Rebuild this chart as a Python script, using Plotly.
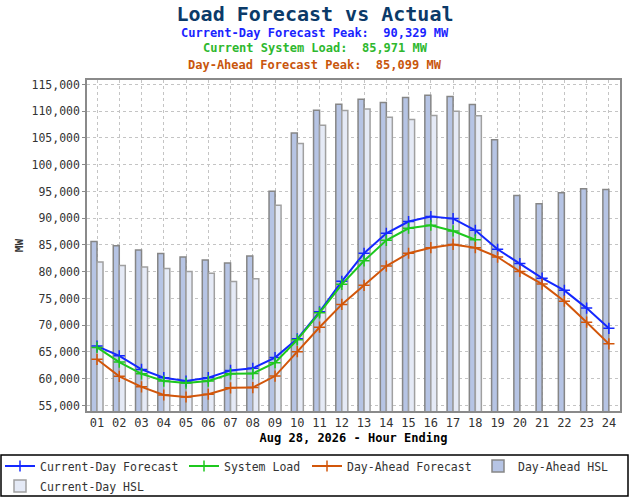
import plotly.graph_objects as go

# hour ending labels
hours = ['%02d' % h for h in range(1, 25)]

# MW values
current_day_forecast = [66110, 64280, 61750, 60190, 59570, 60190, 61560, 61950, 63950, 67460, 72520, 78200,
                        83460, 87190, 89380, 90329, 89930, 87750, 84200, 81540, 78800, 76520, 73200, 69430]
system_load = [65850, 63110, 60910, 59570, 59190, 59570, 60910, 60970, 62990, 67280, 72330, 77650,
               82040, 85880, 88130, 88690, 87620, 85971, None, None, None, None, None, None]
day_ahead_forecast = [63630, 60450, 58480, 56960, 56590, 57100, 58300, 58350, 60500, 65060, 69630, 73900,
                      77470, 81060, 83460, 84490, 85099, 84490, 82750, 80050, 77690, 74490, 70570, 66520]
day_ahead_hsl = [85650, 84870, 84060, 83400, 82750, 82190, 81630, 82940, 95050, 105930, 110190, 111300,
                 112260, 111650, 112570, 113000, 112760, 111260, 104690, 94250, 92690, 94750, 95500, 95380]
current_day_hsl = [81810, 81180, 80880, 80620, 80060, 79720, 78190, 78690, 92450, 103990, 107390, 110120,
                   110430, 108900, 108460, 109210, 110000, 109150, None, None, None, None, None, None]

mono = 'DejaVu Sans Mono'

fig = go.Figure()

fig.add_trace(go.Bar(x=hours, y=day_ahead_hsl, name='Day-Ahead HSL', legend='legend4',
                     marker=dict(color='#b6c4e4', line=dict(color='#868686', width=1.5))))
fig.add_trace(go.Bar(x=hours, y=current_day_hsl, name='Current-Day HSL', legend='legend5',
                     marker=dict(color='#e5eaf6', line=dict(color='#a0a0a0', width=1.5))))

lines = [
	('Current-Day Forecast', current_day_forecast, '#1428ff', 'legend'),
	('System Load', system_load, '#1ec81e', 'legend2'),
	('Day-Ahead Forecast', day_ahead_forecast, '#d2560a', 'legend3'),
]
for name, vals, col, leg in lines:
	fig.add_trace(go.Scatter(x=hours, y=vals, name=name, mode='lines+markers', legend=leg,
	                         line=dict(color=col, width=2),
	                         marker=dict(symbol='cross-thin', size=8, line=dict(color=col, width=1.5))))

fig.update_xaxes(type='category', range=[-0.45, 23.5], showline=True, mirror=True, automargin=False,
                 linecolor='#8a8a8a', linewidth=1.5, showgrid=True, gridcolor='#c4c4c4',
                 griddash='3px,3px', gridwidth=1, ticks='', tickfont=dict(family=mono, size=12, color='#333333'),
                 title=dict(text='<b>Aug 28, 2026 - Hour Ending</b>', standoff=4,
                            font=dict(family=mono, size=12, color='#000000')))
fig.update_yaxes(range=[53970, 115840], dtick=5000, tickformat=',', showline=True, mirror=True, automargin=False,
                 linecolor='#8a8a8a', linewidth=1.5, showgrid=True, gridcolor='#c4c4c4',
                 griddash='3px,3px', gridwidth=1, ticks='outside', ticklen=3, tickcolor='#8a8a8a',
                 zeroline=False, tickfont=dict(family=mono, size=11.5, color='#333333'),
                 title=dict(text='<b>MW</b>', standoff=6, font=dict(family=mono, size=11, color='#333333')))

subs = [
	('Current-Day Forecast Peak:\u00a0\u00a090,329 MW', '#1a24ff', 1.142),
	('Current System Load:\u00a0\u00a085,971 MW', '#2eb82e', 1.097),
	('Day-Ahead Forecast Peak:\u00a0\u00a085,099 MW', '#c8560c', 1.045),
]
for txt, col, yy in subs:
	fig.add_annotation(text='<b>' + txt + '</b>', xref='paper', yref='paper', x=(315 - 87) / 533, y=yy,
	                   xanchor='center', yanchor='middle', showarrow=False,
	                   font=dict(family=mono, size=12, color=col))

# legend frame
fig.add_shape(type='rect', xref='paper', yref='paper', x0=(1 - 87) / 533, x1=(628 - 87) / 533,
              y0=(411 - 455) / 331, y1=(411 - 496) / 331, line=dict(color='#000000', width=1.5))

leg_font = dict(family=mono, size=11.5, color='#333333')


def leg(px, py):
	return dict(orientation='h', xref='container', yref='container', x=px / 630, y=1 - py / 500,
	            xanchor='left', yanchor='middle', bgcolor='rgba(0,0,0,0)', font=leg_font, itemwidth=30)


fig.update_layout(
	width=630, height=500, autosize=False,
	margin=dict(l=87, r=10, t=80, b=89, autoexpand=False),
	plot_bgcolor='#ffffff', paper_bgcolor='#ffffff',
	barmode='group', bargap=0.46, bargroupgap=0,
	title=dict(text='<b>Load Forecast vs Actual</b>', x=0.5, xanchor='center', y=1 - 14 / 500, yanchor='middle',
	           font=dict(family=mono, size=20, color='#0b3a68')),
	legend=leg(0, 466),
	legend2=leg(184, 466),
	legend3=leg(307, 466),
	legend4=leg(478, 466),
	legend5=leg(0, 486),
	showlegend=True,
)

fig.write_html("out.html", config={'displayModeBar': False},
               post_script="document.body.style.margin='0px';")
